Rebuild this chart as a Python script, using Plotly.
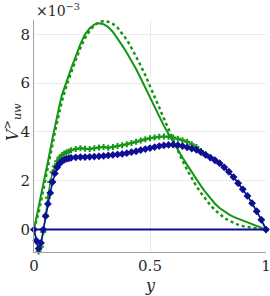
import plotly.graph_objects as go

# ---- data (values in units of 1e-3) ----
y_mark = [0.00, 0.01, 0.02, 0.03, 0.04, 0.05, 0.06, 0.07, 0.08, 0.09, 0.10, 0.11, 0.12, 0.13, 0.14, 0.15,
          0.16, 0.18, 0.20, 0.22, 0.24, 0.26, 0.28, 0.30, 0.32, 0.34, 0.36, 0.38, 0.40, 0.42, 0.44, 0.46,
          0.48, 0.50, 0.52, 0.54, 0.56, 0.58, 0.60, 0.62, 0.64, 0.66, 0.68, 0.70, 0.72, 0.74, 0.76, 0.78,
          0.80, 0.82, 0.84, 0.86, 0.88, 0.90, 0.92, 0.94, 0.96, 0.98, 1.00]

blue_markers = [0.0, -0.45, -0.78, -0.55, 0.0, 0.55, 1.05, 1.5, 1.95, 2.3, 2.55, 2.7, 2.8, 2.86, 2.9, 2.92,
                2.94, 2.96, 2.97, 2.97, 2.98, 2.99, 3.0, 3.02, 3.04, 3.06, 3.08, 3.1, 3.13, 3.17, 3.21, 3.26,
                3.3, 3.34, 3.38, 3.42, 3.45, 3.47, 3.48, 3.46, 3.42, 3.37, 3.32, 3.27, 3.17, 3.06, 2.95, 2.84,
                2.72, 2.55, 2.37, 2.15, 1.9, 1.65, 1.38, 1.08, 0.75, 0.4, 0.0]

green_markers = [0.0, -0.5, -0.9, -0.7, -0.1, 0.6, 1.3, 1.95, 2.35, 2.6, 2.8, 2.95, 3.05, 3.12, 3.17, 3.2,
                 3.25, 3.3, 3.33, 3.31, 3.3, 3.33, 3.36, 3.38, 3.35, 3.38, 3.42, 3.46, 3.5, 3.55, 3.6, 3.65,
                 3.7, 3.74, 3.77, 3.8, 3.81, 3.8, 3.77, 3.72, 3.66, 3.6, 3.5, 3.38, 3.22, 3.08, 2.95, 2.84,
                 2.72, 2.55, 2.37, 2.15, 1.9, 1.65, 1.38, 1.08, 0.75, 0.4, 0.0]

y_line = [0.00, 0.01, 0.02, 0.03, 0.04, 0.05, 0.06, 0.07, 0.08, 0.09, 0.10, 0.11, 0.12, 0.14, 0.16, 0.18,
          0.20, 0.22, 0.24, 0.26, 0.28, 0.30, 0.32, 0.34, 0.36, 0.38, 0.40, 0.42, 0.44, 0.46, 0.48, 0.50,
          0.52, 0.54, 0.56, 0.58, 0.60, 0.62, 0.64, 0.66, 0.68, 0.70, 0.72, 0.74, 0.76, 0.78, 0.80, 0.82,
          0.84, 0.86, 0.88, 0.90, 0.92, 0.94, 0.96, 0.98, 1.00]

green_solid = [0.0, 0.45, 0.9, 1.35, 1.8, 2.25, 2.75, 3.25, 3.75, 4.25, 4.7, 5.1, 5.5, 6.1, 6.6, 7.1,
               7.6, 8.0, 8.25, 8.4, 8.46, 8.42, 8.3, 8.1, 7.85, 7.55, 7.25, 6.93, 6.58, 6.2, 5.8, 5.4,
               5.0, 4.6, 4.25, 3.92, 3.58, 3.25, 2.95, 2.65, 2.35, 2.05, 1.78, 1.52, 1.28, 1.06, 0.88, 0.74,
               0.62, 0.52, 0.45, 0.38, 0.31, 0.24, 0.16, 0.08, 0.0]

green_dotted = [0.0, 0.3, 0.7, 1.15, 1.6, 2.05, 2.5, 3.0, 3.5, 4.0, 4.45, 4.85, 5.25, 5.9, 6.45, 6.95,
                7.45, 7.85, 8.15, 8.38, 8.5, 8.55, 8.52, 8.43, 8.28, 8.05, 7.78, 7.45, 7.1, 6.72, 6.32, 5.9,
                5.45, 5.0, 4.55, 4.1, 3.65, 3.22, 2.82, 2.45, 2.1, 1.78, 1.5, 1.24, 1.0, 0.8, 0.62, 0.48,
                0.37, 0.28, 0.2, 0.14, 0.1, 0.06, 0.04, 0.02, 0.0]

y_zero = [0.0, 1.0]
blue_zero = [0.0, 0.0]

x_ticks = [0, 0.5, 1]
x_ticklabels = ["0", "0.5", "1"]
y_ticks = [0, 2, 4, 6, 8]
y_ticklabels = ["0", "2", "4", "6", "8"]

GREEN = "rgb(20,150,20)"
BLUE = "rgb(15,15,150)"
FONT = "DejaVu Serif, Liberation Serif, serif"

fig = go.Figure()
fig.add_trace(go.Scatter(x=y_line, y=green_dotted, mode="lines",
                         line=dict(color=GREEN, width=2.5, dash="dot"), cliponaxis=False))
fig.add_trace(go.Scatter(x=y_line, y=green_solid, mode="lines",
                         line=dict(color=GREEN, width=2), cliponaxis=False))
fig.add_trace(go.Scatter(x=y_mark, y=green_markers, mode="lines+markers",
                         line=dict(color=GREEN, width=1.5),
                         marker=dict(symbol="cross", size=5, color=GREEN), cliponaxis=False))
fig.add_trace(go.Scatter(x=y_mark, y=blue_markers, mode="lines+markers",
                         line=dict(color=BLUE, width=1.5),
                         marker=dict(symbol="diamond", size=6, color=BLUE), cliponaxis=False))
fig.add_trace(go.Scatter(x=y_zero, y=blue_zero, mode="lines",
                         line=dict(color=BLUE, width=2), cliponaxis=False))

fig.update_layout(
    width=270, height=296,
    margin=dict(l=34, r=4, t=20, b=44, autoexpand=False),
    plot_bgcolor="white", paper_bgcolor="white",
    showlegend=False,
    font=dict(family=FONT, size=14, color="rgb(40,40,40)"),
    xaxis=dict(range=[0, 1], tickvals=x_ticks, ticktext=x_ticklabels, automargin=False,
               showgrid=True, gridcolor="rgb(235,235,235)", gridwidth=1,
               zeroline=False, showline=True, linecolor="rgb(160,160,160)", linewidth=1,
               ticks="", tickfont=dict(size=15), ticklabeloverflow="allow"),
    yaxis=dict(range=[-0.92, 8.59], tickvals=y_ticks, ticktext=y_ticklabels, automargin=False,
               showgrid=True, gridcolor="rgb(235,235,235)", gridwidth=1,
               zeroline=False, showline=True, linecolor="rgb(160,160,160)", linewidth=1,
               ticks="", tickfont=dict(size=15), ticklabeloverflow="allow"),
    annotations=[
        dict(text="<i>y</i>", xref="paper", yref="paper", x=0.5, y=-0.095,
             xanchor="center", yanchor="top", showarrow=False, font=dict(size=16)),
        dict(text="<i>V</i><sup>></sup><sub><i>uw</i></sub>", xref="paper", yref="paper",
             x=-0.095, y=0.56, xanchor="center", yanchor="middle", textangle=-90,
             showarrow=False, font=dict(size=16)),
        dict(text="×10<sup>−3</sup>", xref="paper", yref="paper", x=0.0, y=0.995,
             xanchor="left", yanchor="bottom", showarrow=False, font=dict(size=14)),
    ],
)

fig.write_html("out.html", config={"displayModeBar": False},
               post_script="document.body.style.margin='0';")
